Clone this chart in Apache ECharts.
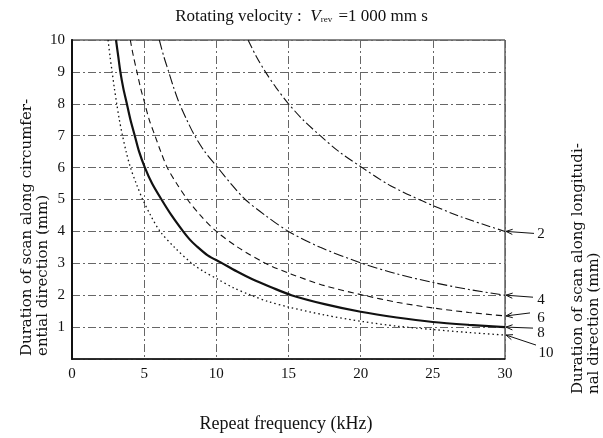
<!DOCTYPE html>
<html><head><meta charset="utf-8">
<script src="https://cdn.jsdelivr.net/npm/echarts@6/dist/echarts.min.js"></script>
<style>html,body{margin:0;padding:0;background:#fff}#c{width:603px;height:438px}</style>
</head><body><div id="c"></div>
<script>
// ---- data ----
const xTicks = [0, 5, 10, 15, 20, 25, 30];
const yTicks = [0, 1, 2, 3, 4, 5, 6, 7, 8, 9, 10];
const curveLabels = ['2', '4', '6', '8', '10'];
const curve2 = [[12.2,10],[12.75,9.5],[13.4,9],[14.15,8.5],[15,8],[16,7.5],[17.2,7],[18.5,6.5],[20.1,6],[22,5.45],[24.3,4.95],[27,4.45],[30,4.0]];
const curve4 = [[6.05,10],[6.35,9.5],[6.7,9],[7.05,8.5],[7.45,8],[7.95,7.5],[8.5,7],[9.2,6.5],[10.1,6],[11,5.5],[12,5],[13.4,4.5],[15,4],[17.2,3.5],[20.1,3],[22.4,2.68],[25,2.4],[27.5,2.18],[30,2.0]];
const curve6 = [[4.04,10],[4.25,9.5],[4.5,9],[4.75,8.5],[5.05,8],[5.35,7.5],[5.75,7],[6.15,6.5],[6.6,6],[7.25,5.5],[8,5],[8.9,4.5],[10,4],[11.5,3.5],[13.4,3],[15.2,2.66],[17.5,2.3],[20.2,2.0],[22.5,1.78],[25,1.6],[27.5,1.46],[30,1.35]];
const curve8 = [[3.05,10],[3.2,9.5],[3.35,9],[3.55,8.5],[3.8,8],[4.05,7.5],[4.35,7],[4.65,6.5],[5.05,6],[5.55,5.5],[6.2,5],[6.9,4.5],[7.7,4],[8.15,3.75],[8.6,3.55],[9.4,3.25],[10.3,3.03],[11.4,2.75],[12.5,2.5],[13.8,2.25],[15.2,2.0],[17.5,1.72],[20,1.48],[22.5,1.3],[25,1.16],[27.5,1.07],[30,1.0]];
const curve10 = [[2.5,10],[2.63,9.5],[2.78,9],[2.93,8.5],[3.1,8],[3.28,7.5],[3.5,7],[3.75,6.5],[4.05,6],[4.45,5.5],[4.9,5],[5.45,4.5],[6.1,4],[7.1,3.5],[8.3,3],[9.1,2.75],[10.1,2.5],[11.2,2.23],[12.4,2.0],[13.6,1.8],[15,1.63],[17.5,1.38],[20.2,1.17],[22.5,1.03],[25.1,0.92],[27.5,0.83],[30,0.75]];
const curves = [curve2, curve4, curve6, curve8, curve10];

// ---- styles ----
const serif = '"Liberation Serif", "DejaVu Serif", serif';
const nameFont = '"DejaVu Serif", serif';
const lineStyles = [
  {width: 1.1, type: [9, 3, 2, 3]},
  {width: 1.1, type: [10, 3, 2, 3]},
  {width: 1.1, type: [6, 4]},
  {width: 2.2, type: 'solid'},
  {width: 1.3, type: [1.5, 3]}
];
// arrow start and label offsets (pixels) relative to each curve end
const arrowStart = [[28, 2], [27, 2], [24, -3], [27, 1], [30, 10]];
const labelOff = [[35, 3], [35, 5], [35, 2], [35, 6], [40, 18]];

const chart = echarts.init(document.getElementById('c'), null, {renderer: 'canvas'});
const option = {
  animation: false,
  backgroundColor: '#fff',
  title: {
    text: 'Rotating velocity :  {i|V}{s|rev} =1 000 mm s',
    left: 'center', top: 3,
    textStyle: {
      fontFamily: serif, fontSize: 17, fontWeight: 'normal', color: '#111',
      rich: {
        i: {fontFamily: serif, fontSize: 17, fontStyle: 'italic', color: '#111'},
        s: {fontFamily: serif, fontSize: 9, color: '#111', padding: [7, 2, 0, 0]}
      }
    }
  },
  grid: {left: 72, right: 98, top: 40, bottom: 79, show: true, borderColor: '#111', borderWidth: 1},
  xAxis: {
    type: 'value', min: xTicks[0], max: xTicks[xTicks.length - 1], interval: 5,
    axisLine: {show: true, onZero: false, lineStyle: {color: '#111', width: 1.5}},
    axisTick: {show: false},
    axisLabel: {fontFamily: serif, fontSize: 15, color: '#111', margin: 8},
    splitLine: {show: true, lineStyle: {color: '#666', width: 1, type: [8, 3, 2, 3]}}
  },
  yAxis: [{
    type: 'value', min: yTicks[0], max: yTicks[yTicks.length - 1], interval: 1,
    axisLine: {show: true, onZero: false, lineStyle: {color: '#111', width: 1.5}},
    axisTick: {show: false},
    axisLabel: {fontFamily: serif, fontSize: 15, color: '#111', margin: 7,
      formatter: v => (v === 0 ? '' : String(v))},
    splitLine: {show: true, lineStyle: {color: '#666', width: 1, type: [8, 3, 2, 3]}}
  }, {
    type: 'value', position: 'right', min: 0, max: 10, interval: 1,
    axisLine: {show: true, lineStyle: {color: '#111', width: 2}},
    axisTick: {show: false}, axisLabel: {show: false}, splitLine: {show: false}
  }],
  series: curves.map((d, i) => ({
    type: 'line', data: d, showSymbol: false, smooth: 0.3,
    lineStyle: Object.assign({color: '#111'}, lineStyles[i]), z: 5
  }))
};
chart.setOption(option);

// annotations: curve labels with arrows, axis names
const g = [];
curves.forEach((d, i) => {
  const end = d[d.length - 1];
  const tip = chart.convertToPixel({gridIndex: 0}, end);
  tip[0] += 1;
  const st = [tip[0] + arrowStart[i][0], tip[1] + arrowStart[i][1]];
  const dx = st[0] - tip[0], dy = st[1] - tip[1];
  const L = Math.hypot(dx, dy), ux = dx / L, uy = dy / L;
  const a = 0.38, h = 7;
  const p1 = [tip[0] + h * (ux * Math.cos(a) - uy * Math.sin(a)), tip[1] + h * (ux * Math.sin(a) + uy * Math.cos(a))];
  const p2 = [tip[0] + h * (ux * Math.cos(-a) - uy * Math.sin(-a)), tip[1] + h * (ux * Math.sin(-a) + uy * Math.cos(-a))];
  g.push({type: 'polyline', shape: {points: [st, tip]}, style: {stroke: '#111', lineWidth: 1}, z: 10});
  g.push({type: 'polyline', shape: {points: [p1, tip, p2]}, style: {stroke: '#111', lineWidth: 1, fill: null}, z: 10});
  g.push({type: 'text', x: tip[0] + labelOff[i][0], y: tip[1] + labelOff[i][1],
    style: {text: curveLabels[i], font: '15px ' + serif, fill: '#111', textAlign: 'center', textVerticalAlign: 'middle'}, z: 10});
});
g.push({type: 'text', x: 19, y: 356, rotation: Math.PI / 2,
  style: {text: 'Duration of scan along circumfer-\nential direction (mm)', font: '15px ' + nameFont, lineHeight: 16,
    fill: '#111', textAlign: 'left', textVerticalAlign: 'top'}});
g.push({type: 'text', x: 570, y: 394, rotation: Math.PI / 2,
  style: {text: 'Duration of scan along longitudi-\nnal direction (mm)', font: '15px ' + nameFont, lineHeight: 16,
    fill: '#111', textAlign: 'left', textVerticalAlign: 'top'}});
g.push({type: 'text', x: 286, y: 424,
  style: {text: 'Repeat frequency (kHz)', font: '18px ' + serif, fill: '#111', textAlign: 'center', textVerticalAlign: 'middle'}});
chart.setOption({graphic: g});
</script></body></html>
